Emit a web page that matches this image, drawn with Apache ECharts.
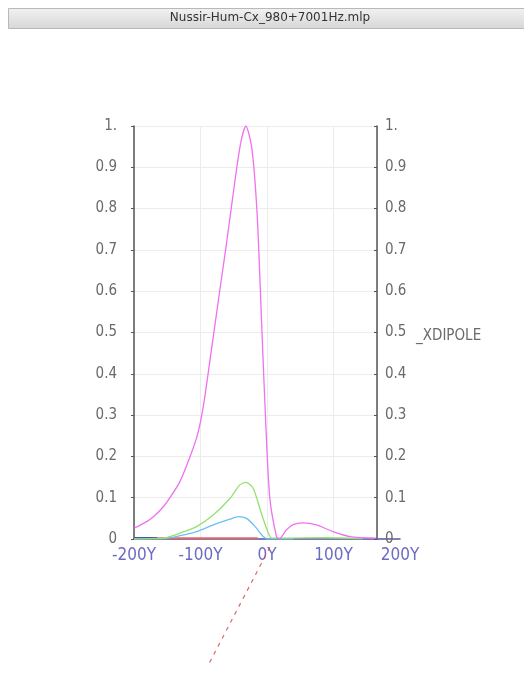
<!DOCTYPE html>
<html>
<head>
<meta charset="utf-8">
<script src="https://cdn.jsdelivr.net/npm/echarts@6/dist/echarts.min.js"></script>
<style>
  html, body { margin: 0; padding: 0; background: #fff; }
  #chart { width: 524px; height: 675px; }
</style>
</head>
<body>
<div id="chart"></div>
<script>
// tick labels
const xTickLabels = ['-200Y', '-100Y', '0Y', '100Y', '200Y']
const yTickLabels = ['0', '0.1', '0.2', '0.3', '0.4', '0.5', '0.6', '0.7', '0.8', '0.9', '1.']
const xRightEdge = 165 // where the right y axis sits on the x scale

// _XDIPOLE curves
const magentaX = [-200, -181, -170, -156, -146, -131, -118, -106, -100, -95, -90, -84, -77, -70, -62, -54, -46, -39, -32, -23, -15, -8, -2, 4, 14, 18, 29, 39, 54, 74, 99, 124, 164]
const magentaY = [0.026, 0.042, 0.055, 0.078, 0.10, 0.139, 0.19, 0.245, 0.285, 0.33, 0.385, 0.455, 0.535, 0.615, 0.705, 0.80, 0.895, 0.965, 1.0, 0.946, 0.785, 0.511, 0.276, 0.099, 0.006, 0.0, 0.022, 0.035, 0.039, 0.034, 0.018, 0.006, 0.002]

const greenX = [-200, -156, -131, -106, -81, -56, -41, -32, -21, -11, -1, 7, 30, 85, 144]
const greenY = [0.0, 0.002, 0.014, 0.030, 0.058, 0.098, 0.131, 0.137, 0.123, 0.074, 0.026, 0.002, 0.002, 0.003, 0.001]

const cyanX = [-200, -156, -131, -106, -81, -56, -43, -31, -18, -6, 2, 40]
const cyanY = [0.0, 0.001, 0.008, 0.018, 0.034, 0.048, 0.054, 0.050, 0.030, 0.006, 0.0, 0.0]

const redX = [-200, -100, -14]
const redY = [0.002, 0.002, 0.002]

const redTailX = [4, -90]
const redTailY = [-0.02, -0.31]

const navyX = [-200, -165]
const navyY = [0.002, 0.002]

const zip = (xs, ys) => xs.map((x, i) => [x, ys[i]])

const labelFont = 'DejaVu Sans Condensed'

function line(name, xs, ys, color, extra) {
  return Object.assign({
    name: name,
    type: 'line',
    xAxisIndex: 0,
    yAxisIndex: 0,
    data: zip(xs, ys),
    showSymbol: false,
    smooth: 0.25,
    lineStyle: { color: color, width: 1.3 },
    itemStyle: { color: color },
  }, extra || {})
}

const option = {
  animation: false,
  backgroundColor: '#fff',
  grid: [
    { left: 134, top: 126, width: 243, height: 413 },
    { left: 134, top: 126, width: 266, height: 413 },
  ],
  xAxis: [
    {
      gridIndex: 0, type: 'value', min: -200, max: xRightEdge, interval: 100,
      axisLine: { show: false }, axisTick: { show: false }, axisLabel: { show: false },
      splitLine: { show: true, lineStyle: { color: '#ececec', width: 1 } },
    },
    {
      gridIndex: 1, type: 'value', min: -200, max: 200, interval: 100,
      axisLine: { show: true, onZero: false, lineStyle: { color: '#55559a', width: 1.5 } },
      axisTick: { show: false },
      splitLine: { show: false },
      axisLabel: {
        color: '#6b6bc4', fontFamily: labelFont, fontSize: 17, margin: 8,
        formatter: (v) => xTickLabels[Math.round((v + 200) / 100)],
      },
    },
  ],
  yAxis: [
    {
      gridIndex: 0, type: 'value', position: 'left', min: 0, max: 1, interval: 0.1,
      axisLine: { show: true, onZero: false, lineStyle: { color: '#555', width: 1.5 } },
      axisTick: { show: true, length: 3, lineStyle: { color: '#555' } },
      splitLine: { show: true, lineStyle: { color: '#ececec', width: 1 } },
      axisLabel: {
        color: '#6a6a6a', fontFamily: labelFont, fontSize: 15, margin: 17,
        formatter: (v) => yTickLabels[Math.round(v * 10)],
      },
    },
    {
      gridIndex: 0, type: 'value', position: 'right', min: 0, max: 1, interval: 0.1,
      axisLine: { show: true, onZero: false, lineStyle: { color: '#555', width: 1.5 } },
      axisTick: { show: true, length: 3, inside: true, lineStyle: { color: '#555' } },
      splitLine: { show: false },
      axisLabel: {
        color: '#6a6a6a', fontFamily: labelFont, fontSize: 15, margin: 8,
        formatter: (v) => yTickLabels[Math.round(v * 10)],
      },
    },
    { gridIndex: 1, type: 'value', min: 0, max: 1, show: false },
  ],
  graphic: [
    {
      type: 'rect', left: 8, top: 8, z: 10,
      shape: { width: 516, height: 20 },
      style: {
        fill: new echarts.graphic.LinearGradient(0, 0, 0, 1, [
          { offset: 0, color: '#f2f2f2' },
          { offset: 1, color: '#d6d6d6' },
        ]),
        stroke: '#b8b8b8', lineWidth: 1,
      },
    },
    {
      type: 'text', x: 270, y: 18, z: 11,
      style: {
        text: 'Nussir-Hum-Cx_980+7001Hz.mlp',
        fill: '#333', font: '12px "DejaVu Sans"',
        textAlign: 'center', textVerticalAlign: 'middle',
      },
    },
    {
      type: 'text', x: 416, y: 336, z: 11,
      style: {
        text: '_XDIPOLE',
        fill: '#6a6a6a', font: '15px "' + labelFont + '"',
        textVerticalAlign: 'middle',
      },
    },
  ],
  series: [
    line('red', redX, redY, '#e06a6a', { smooth: false, lineStyle: { color: '#e06a6a', width: 2 } }),
    line('navy', navyX, navyY, '#2a48a8', { smooth: false, lineStyle: { color: '#2a48a8', width: 2 } }),
    line('cyan', cyanX, cyanY, '#6cc0f0'),
    line('green', greenX, greenY, '#94e070'),
    line('magenta', magentaX, magentaY, '#f070f0'),
    line('redTail', redTailX, redTailY, '#e04848', {
      smooth: false, clip: false,
      lineStyle: { color: '#e04848', width: 1.2, type: [4, 5], opacity: 0.85 },
    }),
  ],
}

const chart = echarts.init(document.getElementById('chart'))
chart.setOption(option)
</script>
</body>
</html>
